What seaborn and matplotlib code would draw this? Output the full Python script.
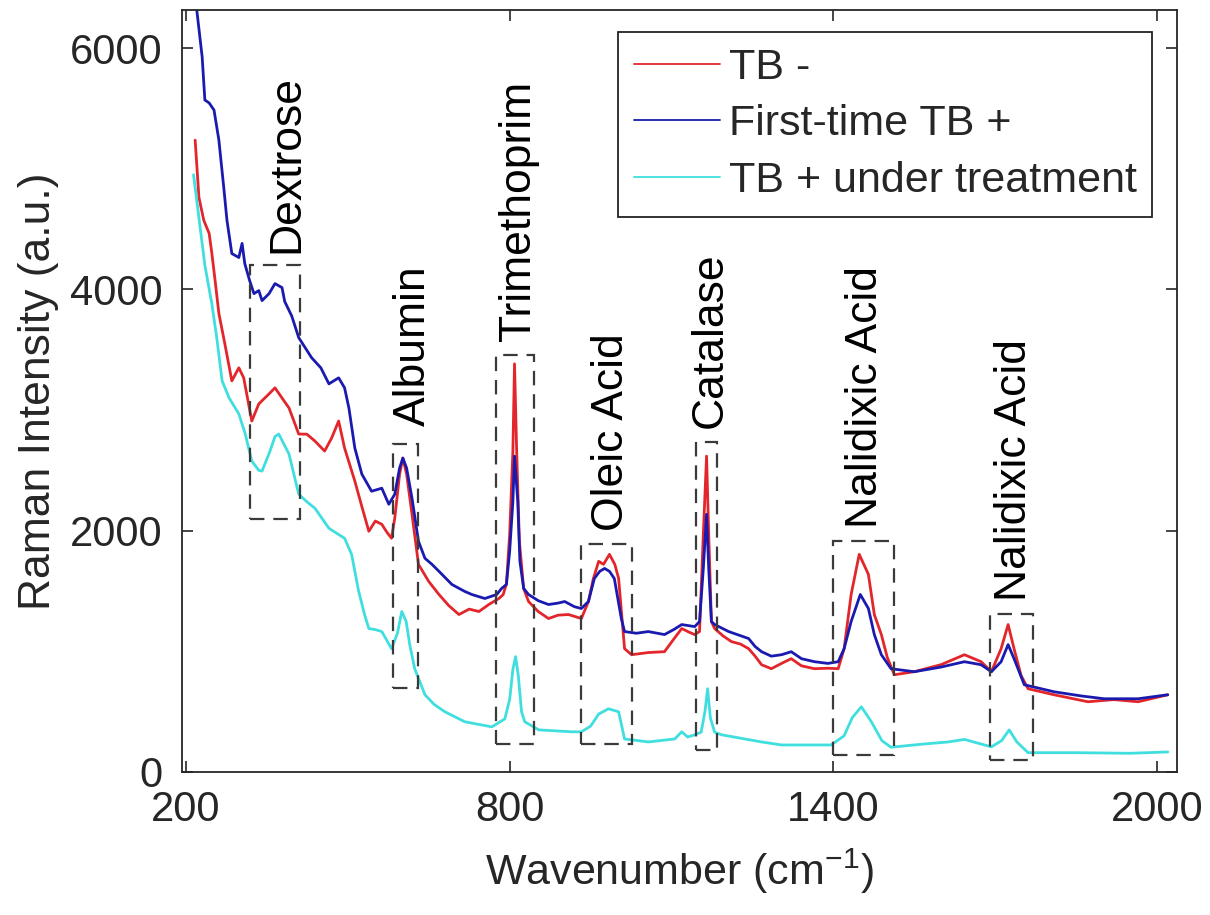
import matplotlib
matplotlib.use("Agg")
import matplotlib.pyplot as plt
from matplotlib.patches import Rectangle
from matplotlib.lines import Line2D
import pandas as pd
import seaborn as sns

# ---------------- data ----------------
series_names = ["TB -", "First-time TB +", "TB + under treatment"]
series_colors = ["#e3262b", "#1a1ab0", "#40dede"]

tb_neg_x = [217, 224, 233, 243, 248, 254, 261, 272, 285, 298, 307, 322, 335, 354, 365, 378, 391, 409,
            424, 439, 457, 470, 483, 494, 513, 526, 539, 551, 563, 572, 581, 587, 596, 602, 609, 619,
            631, 650, 669, 687, 706, 725, 743, 762, 780, 788, 794, 800, 806, 809, 813, 818, 826, 835,
            853, 872, 890, 909, 933, 946, 955, 965, 974, 985, 995, 1002, 1013, 1026, 1057, 1087, 1104,
            1119, 1132, 1143, 1152, 1159, 1165, 1169, 1174, 1180, 1195, 1211, 1228, 1243, 1255, 1267,
            1285, 1304, 1322, 1341, 1365, 1390, 1409, 1420, 1433, 1448, 1465, 1476, 1489, 1500, 1513,
            1550, 1600, 1643, 1674, 1693, 1711, 1724, 1735, 1748, 1761, 1809, 1872, 1920, 1965, 2020]
tb_neg_y = [5237, 4763, 4572, 4464, 4297, 4073, 3800, 3550, 3242, 3350, 3267, 2909, 3051, 3134, 3184,
            3100, 3017, 2801, 2800, 2743, 2660, 2768, 2909, 2685, 2411, 2200, 1995, 2080, 2053, 1990,
            1937, 2103, 2469, 2602, 2469, 2136, 1721, 1579, 1471, 1380, 1305, 1350, 1330, 1390, 1438,
            1470, 1560, 1970, 2660, 3383, 2660, 1912, 1520, 1413, 1330, 1272, 1300, 1305, 1272, 1413,
            1600, 1746, 1721, 1804, 1720, 1604, 1022, 972, 990, 997, 1100, 1189, 1160, 1139, 1164,
            1970, 2618, 1970, 1247, 1189, 1130, 1081, 1060, 1022, 960, 889, 856, 900, 939, 880, 856,
            860, 856, 1022, 1471, 1804, 1638, 1305, 1139, 950, 806, 831, 890, 972, 914, 831, 1022,
            1222, 1022, 800, 690, 640, 582, 600, 582, 640]

first_x = [214, 220, 230, 235, 243, 252, 261, 270, 276, 285, 298, 304, 309, 318, 326, 335, 341, 354,
           365, 378, 383, 396, 409, 433, 450, 465, 483, 494, 502, 513, 526, 544, 563, 576, 587, 596,
           602, 609, 619, 631, 643, 656, 669, 693, 717, 730, 754, 776, 785, 794, 800, 806, 809, 815,
           819, 826, 835, 853, 872, 890, 902, 920, 933, 946, 957, 967, 976, 985, 994, 1007, 1013,
           1035, 1057, 1087, 1104, 1119, 1143, 1152, 1159, 1165, 1169, 1174, 1180, 1206, 1243, 1255,
           1267, 1285, 1304, 1322, 1341, 1365, 1390, 1409, 1420, 1433, 1450, 1465, 1476, 1489, 1507,
           1550, 1600, 1643, 1674, 1693, 1711, 1724, 1735, 1754, 1809, 1860, 1902, 1965, 2020]
first_y = [6600, 6316, 5927, 5570, 5545, 5486, 5237, 4846, 4572, 4297, 4264, 4381, 4214, 4073, 3965,
           3990, 3907, 3965, 4048, 4015, 3900, 3780, 3600, 3433, 3350, 3217, 3267, 3184, 3017, 2685,
           2469, 2327, 2352, 2219, 2302, 2519, 2602, 2519, 2269, 1912, 1771, 1721, 1663, 1554, 1496,
           1471, 1438, 1471, 1521, 1554, 1829, 2244, 2618, 2244, 1746, 1521, 1471, 1420, 1388, 1400,
           1413, 1370, 1355, 1413, 1604, 1663, 1687, 1663, 1604, 1272, 1164, 1150, 1164, 1139, 1180,
           1222, 1205, 1247, 1687, 2136, 1687, 1247, 1222, 1164, 1106, 1040, 997, 960, 972, 997, 939,
           914, 900, 914, 1022, 1247, 1471, 1355, 1139, 972, 856, 831, 870, 914, 889, 831, 914, 1056,
           939, 723, 665, 630, 607, 607, 640]

treat_x = [214, 220, 235, 248, 257, 267, 280, 298, 310, 322, 335, 341, 355, 365, 372, 391, 409, 424,
           439, 465, 494, 507, 520, 531, 539, 551, 563, 581, 592, 600, 608, 615, 624, 643, 660, 680,
           717, 767, 791, 800, 806, 811, 816, 822, 828, 854, 915, 933, 950, 965, 983, 1002, 1013,
           1057, 1106, 1119, 1130, 1143, 1155, 1162, 1167, 1172, 1180, 1193, 1267, 1304, 1396, 1420,
           1435, 1452, 1470, 1490, 1507, 1563, 1613, 1643, 1693, 1712, 1726, 1740, 1761, 1850, 1950,
           2020]
treat_y = [4950, 4738, 4200, 3880, 3600, 3242, 3100, 2968, 2800, 2577, 2500, 2494, 2650, 2780, 2801,
           2635, 2302, 2240, 2186, 2020, 1937, 1804, 1500, 1305, 1189, 1180, 1164, 1022, 1150, 1330,
           1250, 1050, 856, 640, 560, 499, 416, 374, 440, 600, 850, 956, 800, 500, 416, 349, 333, 333,
           380, 480, 524, 499, 274, 249, 274, 333, 290, 308, 330, 500, 690, 450, 330, 308, 249, 224,
           224, 300, 450, 540, 420, 260, 205, 230, 249, 270, 208, 260, 349, 250, 160, 160, 155, 166]

region_labels = ["Dextrose", "Albumin", "Trimethoprim", "Oleic Acid", "Catalase",
                 "Nalidixic Acid", "Nalidixic Acid"]
region_x0 = [318, 583, 774, 933, 1146, 1400, 1691]
region_x1 = [411, 630, 846, 1026, 1185, 1513, 1770]
region_y0 = [2100, 700, 233, 233, 183, 141, 100]
region_y1 = [4206, 2718, 3458, 1887, 2735, 1912, 1313]
label_x = [387, 621, 817, 988, 1171, 1460, 1735]
label_y = [4300, 2870, 3570, 1995, 2850, 2020, 1415]

x_ticks = [200, 800, 1400, 2000]
y_ticks = [0, 2000, 4000, 6000]

# ---------------- style ----------------
sns.set_style("ticks")
plt.rcParams["font.family"] = ["Liberation Sans", "DejaVu Sans"]
plt.rcParams["mathtext.default"] = "regular"

fig = plt.figure(figsize=(12.1, 9.15), dpi=100)
ax = fig.add_axes([0.1504, 0.1563, 0.8223, 0.8328])

frames = []
for name, xs, ys in zip(series_names, [tb_neg_x, first_x, treat_x], [tb_neg_y, first_y, treat_y]):
    frames.append(pd.DataFrame({"Wavenumber": xs, "Intensity": ys, "Sample": name}))
df = pd.concat(frames, ignore_index=True)

sns.lineplot(data=df, x="Wavenumber", y="Intensity", hue="Sample", hue_order=series_names,
             palette=dict(zip(series_names, series_colors)), estimator=None, sort=False,
             lw=2.0, ax=ax, legend=False)

# dashed region boxes and labels
for lab, x0, x1, y0, y1, lx, ly in zip(region_labels, region_x0, region_x1, region_y0, region_y1,
                                       label_x, label_y):
    ax.add_patch(Rectangle((x0, y0), x1 - x0, y1 - y0, fill=False, edgecolor="#3a3a3a",
                           lw=1.6, ls=(0, (6.5, 4.0)), zorder=3))
    ax.text(lx, ly, lab, rotation=90, ha="center", va="bottom", fontsize=32, color="black")

ax.set_xlim(192.6, 2037)
ax.set_ylim(0, 6316)
ax.set_xticks(x_ticks)
ax.set_yticks(y_ticks)
ax.set_xlabel("Wavenumber (cm$^{-1}$)", fontsize=31, labelpad=12)
ax.set_ylabel("Raman Intensity (a.u.)", fontsize=32, labelpad=8)
ax.tick_params(axis="both", direction="in", length=8, width=1.2, top=True, right=True,
               labelsize=30, colors="#262626")
ax.tick_params(axis="x", pad=13)
ax.tick_params(axis="y", pad=14)
for sp in ax.spines.values():
    sp.set_visible(True)
    sp.set_linewidth(1.3)
    sp.set_color("#262626")

handles = [Line2D([0], [0], color=c, lw=1.3) for c in series_colors]
leg = ax.legend(handles, series_names, loc="upper right", bbox_to_anchor=(0.975, 0.971),
                borderaxespad=0, fontsize=31, frameon=True, fancybox=False, framealpha=1,
                handlelength=2.0, handletextpad=0.2, labelspacing=0.39, borderpad=0.36)
leg.get_frame().set_edgecolor("#222222")
leg.get_frame().set_linewidth(1.3)

fig.savefig("out.png", dpi=100, facecolor="white")
